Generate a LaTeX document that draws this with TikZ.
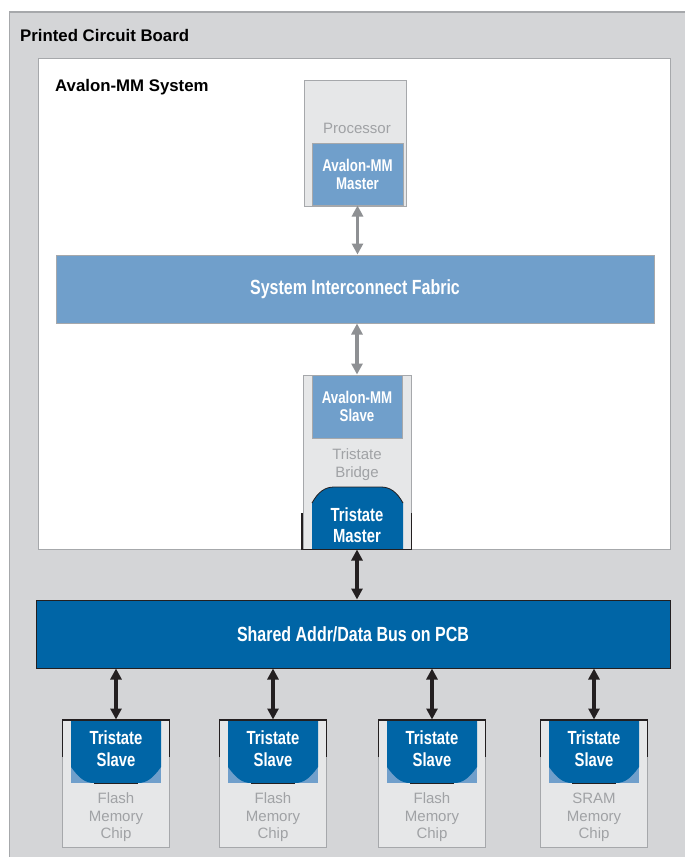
\documentclass[tikz,border=0pt]{standalone}
\usepackage{fontspec}
\setmainfont{Liberation Sans}
\newfontfamily\condfont[FakeStretch=0.78]{Liberation Sans}
\usetikzlibrary{arrows.meta}
\definecolor{pcbgray}{HTML}{D4D5D7}
\definecolor{chipgray}{HTML}{E6E7E8}
\definecolor{edgegray}{HTML}{A6A8AB}
\definecolor{labelgray}{HTML}{A0A2A5}
\definecolor{lightblue}{HTML}{709FCB}
\definecolor{darkblue}{HTML}{0065A6}
\definecolor{arrowgray}{HTML}{8E9093}
\definecolor{nearblack}{HTML}{231F20}

\begin{document}
\begin{tikzpicture}[x=1pt,y=-1pt,
                plain box/.style={draw=edgegray,line width=1pt,inner sep=0pt},
                chip box/.style={plain box,fill=chipgray},
                light block/.style={plain box,fill=lightblue,text=white,align=center},
                dark label/.style={text=white,align=center,inner sep=0pt,
                  font=\condfont\bfseries\fontsize{19}{21.5}\selectfont},
                grey label/.style={text=labelgray,align=center,inner sep=0pt,
                  font=\fontsize{15}{17.5}\selectfont},
                title label/.style={anchor=west,inner sep=0pt,
                  font=\bfseries\fontsize{16.8}{19}\selectfont},
                gray link/.style={arrowgray,line width=3.5pt,
                  {Triangle[length=11pt,width=11pt]}-{Triangle[length=11pt,width=11pt]}},
                black link/.style={nearblack,line width=3.5pt,
                  {Triangle[length=11pt,width=11pt]}-{Triangle[length=11pt,width=11pt]}},
                bracket/.style={nearblack,line width=1.5pt},
                ]
                \useasboundingbox (0,0) rectangle (685,857);

                % board and system
                \draw[draw=edgegray,line width=1.5pt,fill=pcbgray] (9.5,12) rectangle (700,870);
                \node[title label] (pcb) at (20,35) {Printed Circuit Board};
                \node[plain box,fill=white,minimum width=632,minimum height=491] (system) at (354,303.5) {};
                \node[title label] (systitle) at (55,87) {Avalon-MM System};

                % processor
                \node[chip box,minimum width=102,minimum height=126] (proc) at (355,143) {};
                \node[grey label] (proclabel) at (357,128) {Processor};
                \node[light block,minimum width=91,minimum height=62,
                  font=\condfont\bfseries\fontsize{17}{18}\selectfont] (avmaster) at (357.5,174) {Avalon-MM\\Master};

                % fabric
                \node[light block,minimum width=598,minimum height=68,
                  font=\condfont\bfseries\fontsize{20.5}{22}\selectfont] (fabric) at (355,289) {System Interconnect Fabric};

                % tristate bridge
                \node[chip box,minimum width=108,minimum height=174] (bridge) at (357,462) {};
                \node[light block,minimum width=90,minimum height=63,
                  font=\condfont\bfseries\fontsize{17}{18}\selectfont] (avslave) at (357,406.5) {Avalon-MM\\Slave};
                \node[grey label] (bridgelabel) at (357,464.5) {Tristate\\Bridge};
                \fill[darkblue] (312,549) -- (312,503) .. controls (318,492) and (325,487) .. (334,487)
                  -- (381,487) .. controls (390,487) and (397,492) .. (403,503) -- (403,549) -- cycle;
                \draw[nearblack,line width=0.8pt] (312,503) .. controls (318,492) and (325,487) .. (334,487)
                  -- (381,487) .. controls (390,487) and (397,492) .. (403,503);
                \node[dark label] (tmaster) at (357,525) {Tristate\\Master};
                \draw[bracket] (302,513) -- (302,549.5) -- (411.5,549.5) -- (411.5,513);

                % shared bus
                \node[draw=nearblack,line width=1pt,fill=darkblue,minimum width=634,minimum height=68,
                  text=white,font=\condfont\bfseries\fontsize{20.5}{22}\selectfont] (bus) at (353,634) {Shared Addr/Data Bus on PCB};

                % memory chips
                \foreach \x/\kind [count=\i] in {116/Flash,273/Flash,432/Flash,594/SRAM} {
                  \node[chip box,minimum width=107,minimum height=127] (chip\i) at (\x,783.5) {};
                  \fill[lightblue] ({\x-45},720) rectangle ({\x+45},783);
                  \fill[darkblue] ({\x-45},720) -- ({\x+45},720) -- ({\x+45},767)
                    .. controls ({\x+37},778) and ({\x+31},783) .. ({\x+22},783)
                    -- ({\x-22},783) .. controls ({\x-31},783) and ({\x-37},778) .. ({\x-45},767) -- cycle;
                  \draw[nearblack,line width=0.8pt] ({\x-22},783) -- ({\x+22},783);
                  \draw[bracket] ({\x-53.5},757) -- ({\x-53.5},720) -- ({\x+53.5},720) -- ({\x+53.5},757);
                  \node[dark label] (tslave\i) at (\x,748.5) {Tristate\\Slave};
                  \node[grey label] (chiplabel\i) at (\x,817.5) {\kind\\Memory\\Chip};
                  \draw[black link] (chip\i.north |- bus.south) -- (chip\i.north);
                }

                % links
                \draw[gray link] (avmaster.south) -- (avmaster.south |- fabric.north);
                \draw[gray link] (fabric.south -| bridge.north) -- (bridge.north);
                \draw[black link] (bridge.south) -- (bridge.south |- bus.north);
            \end{tikzpicture}
\end{document}
